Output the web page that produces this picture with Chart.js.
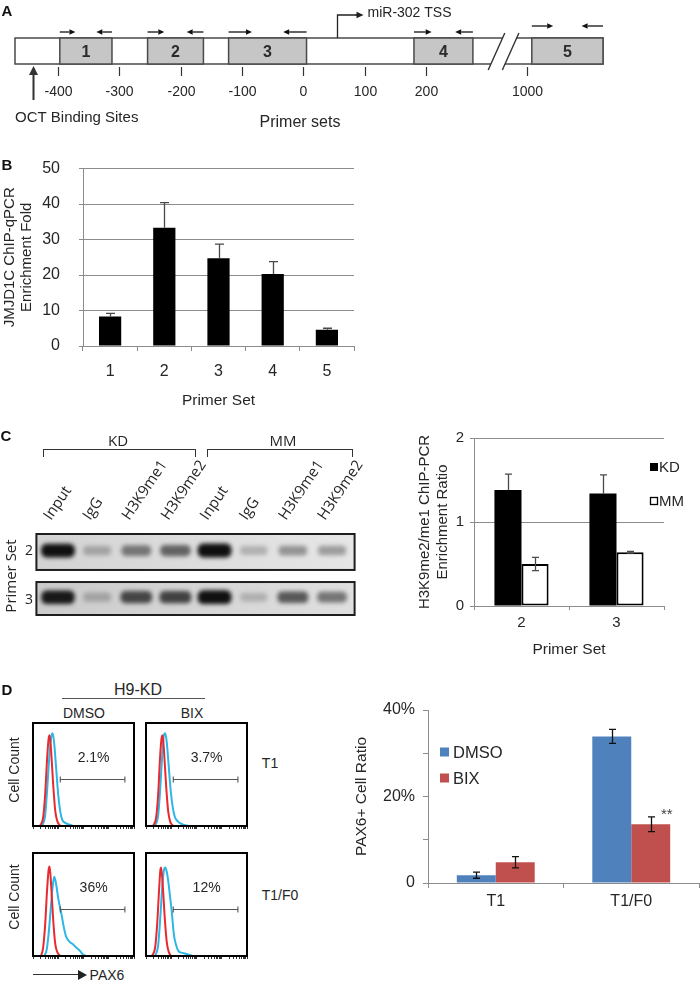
<!DOCTYPE html>
<html>
<head>
<meta charset="utf-8">
<script src="https://cdn.jsdelivr.net/npm/chart.js@4.4.1/dist/chart.umd.min.js"></script>
<style>
  body { margin: 0; background: #fff; }
  #page { position: relative; width: 700px; height: 984px; overflow: hidden;
          font-family: 'Liberation Sans', Arial, sans-serif; color: #262626; }
  canvas { position: absolute; }
  .t { position: absolute; white-space: nowrap; line-height: 1; transform: translate(-50%, -50%); }
  .rot { transform: translate(-50%, -50%) rotate(-90deg); }
  .letter { font-family: 'Liberation Sans Narrow', 'Liberation Sans', sans-serif; font-weight: bold; font-size: 15px; color: #111; }
  .gelfont { font-family: 'Open Sans', 'Liberation Sans', sans-serif; }
</style>
</head>
<body>
<div id="page">
  <canvas id="panelA" width="700" height="135" style="left:0;top:0"></canvas>
  <canvas id="chartB" width="370" height="280" style="left:0;top:140px"></canvas>
  <canvas id="gel" width="370" height="200" style="left:0;top:420px"></canvas>
  <canvas id="chartC" width="320" height="260" style="left:380px;top:410px"></canvas>
  <canvas id="flow0" width="105" height="113" style="left:31px;top:721px"></canvas>
  <canvas id="flow1" width="105" height="113" style="left:144px;top:721px"></canvas>
  <canvas id="flow2" width="105" height="113" style="left:31px;top:851px"></canvas>
  <canvas id="flow3" width="105" height="113" style="left:144px;top:851px"></canvas>
  <canvas id="chartD" width="360" height="260" style="left:340px;top:690px"></canvas>

  <div class="t letter" style="left:7px;top:10px">A</div>
  <div class="t letter" style="left:7px;top:164px">B</div>
  <div class="t letter" style="left:6px;top:435px">C</div>
  <div class="t letter" style="left:7px;top:689px">D</div>

  <!-- C: gel labels -->
  <div class="t gelfont" style="left:118px;top:440px;font-size:15px">KD</div>
  <div class="t gelfont" style="left:283px;top:440px;font-size:15px">MM</div>
  <div style="position:absolute;left:43px;top:449px;width:151px;height:7px;border:1.5px solid #333;border-bottom:none"></div>
  <div style="position:absolute;left:207px;top:449px;width:144px;height:7px;border:1.5px solid #333;border-bottom:none"></div>
  <div class="t gelfont rot" style="left:10px;top:576px;font-size:15px">Primer Set</div>
  <div class="t gelfont" style="left:29px;top:550px;font-size:14px">2</div>
  <div class="t gelfont" style="left:29px;top:599px;font-size:14px">3</div>

  <!-- D: flow labels -->
  <div class="t" style="left:138px;top:690px;font-size:16px">H9-KD</div>
  <div style="position:absolute;left:62px;top:698px;width:143px;border-top:1.5px solid #555"></div>
  <div class="t" style="left:84px;top:713px;font-size:14px">DMSO</div>
  <div class="t" style="left:192px;top:713px;font-size:14px">BIX</div>
  <div class="t" style="left:270px;top:763px;font-size:14px">T1</div>
  <div class="t" style="left:280px;top:895px;font-size:14px">T1/F0</div>
  <div class="t rot" style="left:14px;top:770px;font-size:14px">Cell Count</div>
  <div class="t rot" style="left:14px;top:897px;font-size:14px">Cell Count</div>
  <div style="position:absolute;left:33px;top:974px;width:46px;border-top:1.5px solid #333"></div>
  <div style="position:absolute;left:78px;top:970px;width:0;height:0;border-top:5px solid transparent;border-bottom:5px solid transparent;border-left:9px solid #222"></div>
  <div class="t" style="left:107px;top:975px;font-size:14px">PAX6</div>
</div>

<script>
// ---- Panel A: promoter map ----
const primerNames = ['1', '2', '3', '4', '5'];
const primerStart = [-397, -254, -122, 180, 1008];
const primerEnd = [-312, -163, 5, 276, 1124];
const positionTicks = [-400, -300, -200, -100, 0, 100, 200, 1000];
const tssPosition = 55;
const octPosition = -441;

// ---- Panel B ----
const primerSets = ['1', '2', '3', '4', '5'];
const jmjd1cFold = [8.3, 33.3, 24.7, 20.3, 4.6];
const jmjd1cErr = [0.9, 7.1, 4.0, 3.5, 0.4];

// ---- Panel C ----
const laneLabels = ['Input', 'IgG', 'H3K9me1', 'H3K9me2', 'Input', 'IgG', 'H3K9me1', 'H3K9me2'];
const bandSet2 = [0.97, 0.22, 0.45, 0.55, 0.98, 0.15, 0.3, 0.25];
const bandSet3 = [0.93, 0.22, 0.7, 0.72, 0.97, 0.15, 0.6, 0.45];
const chipPrimers = ['2', '3'];
const kdRatio = [1.38, 1.34];
const kdErr = [0.19, 0.22];
const mmRatio = [0.50, 0.64];
const mmErr = [0.08, 0.01];

// ---- Panel D ----
const flowPercent = ['2.1%', '3.7%', '36%', '12%'];
const redT1Dmso = [[7,0],[10,0.08],[12,0.3],[14,0.66],[15.5,0.85],[16.5,0.88],[18,0.72],[20,0.4],[22,0.15],[24,0.05],[27,0]];
const blueT1Dmso = [[9,0],[12,0.1],[14,0.35],[16,0.65],[18,0.86],[19.5,0.9],[21,0.8],[23,0.55],[25,0.3],[27,0.14],[29,0.06],[32,0.03],[37,0.01],[40,0]];
const redT1Bix = [[7,0],[10,0.08],[12,0.3],[14,0.68],[15.5,0.86],[16.5,0.88],[18,0.7],[20,0.38],[22,0.14],[24,0.04],[27,0]];
const blueT1Bix = [[9,0],[12,0.1],[14,0.35],[16,0.68],[17.5,0.87],[19,0.9],[20.5,0.82],[22.5,0.58],[24.5,0.34],[26.5,0.18],[28.5,0.09],[31,0.05],[35,0.02],[42,0]];
const redF0Dmso = [[8,0],[10,0.08],[12,0.3],[14,0.65],[15.5,0.84],[16.5,0.87],[18,0.68],[20,0.35],[22,0.12],[24,0.04],[27,0]];
const blueF0Dmso = [[11,0],[13.5,0.06],[15.5,0.22],[17.5,0.45],[19.5,0.68],[21,0.77],[22.5,0.72],[25,0.56],[28.5,0.39],[30.5,0.28],[32.7,0.19],[36,0.14],[40,0.11],[43,0.08],[46.5,0.05],[49,0.02],[52,0]];
const redF0Bix = [[6,0],[9,0.08],[11,0.3],[13,0.65],[14.3,0.84],[15,0.86],[16.5,0.7],[18.5,0.38],[20.5,0.14],[22.5,0.04],[25,0]];
const blueF0Bix = [[9,0],[12,0.1],[14,0.35],[16,0.66],[17.5,0.82],[19,0.86],[20.5,0.82],[22,0.73],[24,0.56],[25.4,0.44],[27.7,0.2],[30,0.1],[32,0.05],[36,0.03],[40,0.02],[46,0]];
const conditions = ['T1', 'T1/F0'];
const dmsoPct = [1.8, 33.9];
const dmsoErr = [0.7, 1.6];
const bixPct = [4.8, 13.6];
const bixErr = [1.3, 1.7];

const FONT = "'Liberation Sans', Arial, sans-serif";
const NARROW = "'Liberation Sans Narrow', 'Liberation Sans', sans-serif";
const TXT = '#262626';
const AXIS = '#8c8c8c';
Chart.defaults.font.family = FONT;
Chart.defaults.color = TXT;
Chart.defaults.animation = false;

function toAxis(v) { return v > 600 ? v - 636 : v; } // axis break between 276 and 1000

function arrow(ctx, x0, y0, x1, y1, head) {
  const dir = Math.sign(x1 - x0) || 1;
  const vert = x0 === x1;
  ctx.beginPath();
  ctx.moveTo(x0, y0);
  ctx.lineTo(vert ? x1 : x1 - dir * head, vert ? y1 + head : y1);
  ctx.stroke();
  ctx.beginPath();
  if (vert) {
    ctx.moveTo(x1, y1); ctx.lineTo(x1 - head / 2, y1 + head); ctx.lineTo(x1 + head / 2, y1 + head);
  } else {
    ctx.moveTo(x1, y1); ctx.lineTo(x1 - dir * head, y1 - head / 2.2); ctx.lineTo(x1 - dir * head, y1 + head / 2.2);
  }
  ctx.closePath();
  ctx.fill();
}

const schematic = {
  id: 'schematic',
  afterDraw(chart) {
    const { ctx, chartArea: a } = chart;
    const sx = chart.scales.x;
    const x = v => sx.getPixelForValue(toAxis(v));
    ctx.save();
    ctx.lineWidth = 1.5;
    ctx.strokeStyle = '#4a4a4a';
    ctx.fillStyle = '#fff';
    ctx.fillRect(a.left, a.top, a.width, a.height);
    ctx.strokeRect(a.left, a.top, a.width, a.height);

    primerStart.forEach((s, i) => {
      const x0 = x(s), x1 = x(primerEnd[i]);
      ctx.fillStyle = '#c6c6c6';
      ctx.lineWidth = 1.5;
      ctx.strokeStyle = '#4a4a4a';
      ctx.fillRect(x0, a.top, x1 - x0, a.height);
      ctx.strokeRect(x0, a.top, x1 - x0, a.height);
      ctx.fillStyle = '#2b2b2b';
      ctx.font = 'bold 16px ' + NARROW;
      ctx.textAlign = 'center';
      ctx.textBaseline = 'middle';
      ctx.fillText(primerNames[i], (x0 + x1) / 2, (a.top + a.bottom) / 2 + 2);
      // primer arrows
      const ay = a.top - (i === 4 ? 12 : 6);
      const len = (x1 - x0) * 0.3;
      ctx.strokeStyle = '#111';
      ctx.fillStyle = '#111';
      ctx.lineWidth = 1.3;
      arrow(ctx, x0, ay, x0 + len, ay, 6);
      arrow(ctx, x1, ay, x1 - len, ay, 6);
    });

    // axis break
    const b1 = sx.getPixelForValue(301), b2 = sx.getPixelForValue(324);
    const t1 = sx.getPixelForValue(328), t2 = sx.getPixelForValue(351);
    ctx.fillStyle = '#fff';
    ctx.beginPath();
    ctx.moveTo(b1, a.bottom + 6); ctx.lineTo(t1, a.top - 5); ctx.lineTo(t2, a.top - 5); ctx.lineTo(b2, a.bottom + 6);
    ctx.closePath(); ctx.fill();
    ctx.strokeStyle = '#333'; ctx.lineWidth = 1.4;
    ctx.beginPath();
    ctx.moveTo(b1, a.bottom + 6); ctx.lineTo(t1, a.top - 5);
    ctx.moveTo(b2, a.bottom + 6); ctx.lineTo(t2, a.top - 5);
    ctx.stroke();

    // position ticks
    ctx.strokeStyle = '#333'; ctx.lineWidth = 1.2;
    ctx.fillStyle = TXT; ctx.font = '14px ' + FONT;
    ctx.textAlign = 'center'; ctx.textBaseline = 'middle';
    positionTicks.forEach(t => {
      const px = Math.round(x(t)) + 0.5;
      ctx.beginPath(); ctx.moveTo(px, a.bottom + 3); ctx.lineTo(px, a.bottom + 12); ctx.stroke();
      ctx.fillText(String(t), px, a.bottom + 28);
    });

    // TSS bent arrow
    const xt = Math.round(x(tssPosition)) + 0.5;
    ctx.strokeStyle = '#222'; ctx.fillStyle = '#222'; ctx.lineWidth = 1.3;
    ctx.beginPath(); ctx.moveTo(xt, a.top); ctx.lineTo(xt, a.top - 23); ctx.lineTo(xt + 20, a.top - 23); ctx.stroke();
    arrow(ctx, xt + 18, a.top - 23, xt + 26, a.top - 23, 7);
    ctx.fillStyle = TXT; ctx.font = '14px ' + FONT; ctx.textAlign = 'left';
    ctx.fillText('miR-302 TSS', xt + 30, a.top - 25);

    // OCT binding site arrow
    const xo = Math.round(x(octPosition)) + 0.5;
    ctx.strokeStyle = '#333'; ctx.fillStyle = '#333'; ctx.lineWidth = 1.6;
    ctx.beginPath(); ctx.moveTo(xo, a.bottom + 36); ctx.lineTo(xo, a.bottom + 8); ctx.stroke();
    arrow(ctx, xo, a.bottom + 36, xo, a.bottom + 2, 9);
    ctx.fillStyle = TXT; ctx.font = '15px ' + NARROW; ctx.textAlign = 'left';
    ctx.fillText('OCT Binding Sites', a.left, a.bottom + 54);
    ctx.font = '16px ' + FONT; ctx.textAlign = 'center';
    ctx.fillText('Primer sets', 300, a.bottom + 59);
    ctx.restore();
  }
};

new Chart(document.getElementById('panelA'), {
  type: 'scatter',
  data: { datasets: [] },
  options: {
    responsive: false,
    layout: { padding: { left: 15, right: 97, top: 38, bottom: 71 } },
    plugins: { legend: { display: false }, tooltip: { enabled: false } },
    scales: {
      x: { type: 'linear', min: -470, max: 488, display: false },
      y: { min: 0, max: 1, display: false }
    }
  },
  plugins: [schematic]
});

// error bars drawn from the bar scales
function errorBars(errs, lower, color, cap) {
  return {
    id: 'errorBars',
    afterDatasetsDraw(chart) {
      const { ctx } = chart;
      const y = chart.scales.y;
      ctx.save();
      ctx.strokeStyle = color;
      ctx.lineWidth = 1.3;
      errs.forEach((err, i) => {
        const ds = chart.data.datasets[i];
        chart.getDatasetMeta(i).data.forEach((bar, j) => {
          const v = ds.data[j], e = err[j];
          const top = y.getPixelForValue(v + e);
          const bot = lower[i] ? y.getPixelForValue(v - e) : y.getPixelForValue(v);
          const bx = Math.round(bar.x) + 0.5;
          ctx.beginPath();
          ctx.moveTo(bx, top); ctx.lineTo(bx, bot);
          ctx.moveTo(bx - cap / 2, top); ctx.lineTo(bx + cap / 2, top);
          if (lower[i]) { ctx.moveTo(bx - cap / 2, bot); ctx.lineTo(bx + cap / 2, bot); }
          ctx.stroke();
        });
      });
      ctx.restore();
    }
  };
}

function boxLegend(anchor, dx, sq, textDx, rowsDy, font) {
  return {
    id: 'boxLegend',
    afterDraw(chart) {
      const { ctx, chartArea: a } = chart;
      ctx.save();
      ctx.font = font;
      ctx.textBaseline = 'middle';
      ctx.textAlign = 'left';
      const x0 = (anchor === 'right' ? a.right : a.left) + dx;
      chart.data.datasets.forEach((ds, i) => {
        const cy = a.top + rowsDy[i];
        ctx.fillStyle = ds.backgroundColor;
        ctx.fillRect(x0, cy - sq / 2, sq, sq);
        if (ds.borderWidth) {
          ctx.strokeStyle = ds.borderColor; ctx.lineWidth = 1.3;
          ctx.strokeRect(x0 + 0.5, cy - sq / 2 + 0.5, sq - 1, sq - 1);
        }
        ctx.fillStyle = TXT;
        ctx.fillText(ds.label, x0 + textDx, cy + 1);
      });
      ctx.restore();
    }
  };
}

// ---- B ----
new Chart(document.getElementById('chartB'), {
  type: 'bar',
  data: {
    labels: primerSets,
    datasets: [{ label: 'JMJD1C', data: jmjd1cFold, backgroundColor: '#000', categoryPercentage: 1, barPercentage: 0.41 }]
  },
  options: {
    responsive: false,
    layout: { padding: { top: 24, right: 16, left: 0, bottom: 0 } },
    plugins: { legend: { display: false }, tooltip: { enabled: false } },
    scales: {
      x: {
        afterFit: s => { s.height = 74; },
        grid: { drawOnChartArea: false, tickLength: 5, color: AXIS },
        border: { color: AXIS },
        ticks: { font: { size: 16 }, padding: 11 },
        title: { display: true, text: 'Primer Set', font: { size: 15.5 }, padding: { top: 0, bottom: 10.4 } }
      },
      y: {
        min: 0, max: 50,
        afterFit: s => { s.width = 83; },
        ticks: { stepSize: 10, font: { size: 16 }, padding: 19 },
        grid: { color: AXIS, tickLength: 4 },
        border: { color: AXIS },
        title: { display: true, text: ['JMJD1C ChIP-qPCR', 'Enrichment Fold'], font: { size: 15, lineHeight: 1.15 }, padding: { top: 1.4, bottom: 0 } }
      }
    }
  },
  plugins: [errorBars([jmjd1cErr], [false], '#4a4a4a', 9)]
});

// ---- C gel ----
const gelPlugin = {
  id: 'gel',
  afterDraw(chart) {
    const { ctx, chartArea: a, scales } = chart;
    const rows = [bandSet2, bandSet3];
    const spans = [[0, 0.444], [0.593, 1]];
    ctx.save();
    rows.forEach((bands, r) => {
      const top = a.top + spans[r][0] * a.height, bot = a.top + spans[r][1] * a.height;
      const left = a.left - 2, right = a.right + 3;
      const g = ctx.createLinearGradient(left, 0, right, 0);
      g.addColorStop(0, r ? '#cbcbcb' : '#d3d3d3');
      g.addColorStop(1, r ? '#dfdfdf' : '#e6e6e6');
      ctx.fillStyle = g;
      ctx.fillRect(left, top, right - left, bot - top);
      ctx.save();
      ctx.beginPath(); ctx.rect(left, top, right - left, bot - top); ctx.clip();
      ctx.filter = 'blur(2px)';
      bands.forEach((b, j) => {
        const cx = scales.x.getPixelForValue(j);
        const cy = top + (bot - top) * 0.46;
        const shade = Math.round(205 - b * 195);
        ctx.fillStyle = `rgb(${shade},${shade},${shade})`;
        const w = 26 + b * 8, h = 8 + b * 6;
        ctx.beginPath(); ctx.roundRect(cx - w / 2, cy - h / 2, w, h, h / 2.5); ctx.fill();
      });
      ctx.restore();
      ctx.lineWidth = 2; ctx.strokeStyle = '#1e1e1e';
      ctx.strokeRect(left, top, right - left, bot - top);
    });
    ctx.font = "15px 'Open Sans', 'Liberation Sans', sans-serif";
    ctx.fillStyle = TXT; ctx.textAlign = 'left'; ctx.textBaseline = 'alphabetic';
    laneLabels.forEach((lab, j) => {
      const cx = scales.x.getPixelForValue(j);
      ctx.save();
      ctx.translate(cx - 7, a.top - 13);
      ctx.rotate(-56 * Math.PI / 180);
      ctx.fillText(lab, 0, 0);
      ctx.restore();
    });
    ctx.restore();
  }
};

new Chart(document.getElementById('gel'), {
  type: 'bar',
  data: { labels: laneLabels, datasets: [] },
  options: {
    responsive: false,
    layout: { padding: { left: 38.4, right: 18.4, top: 114, bottom: 5 } },
    plugins: { legend: { display: false }, tooltip: { enabled: false } },
    scales: { x: { display: false }, y: { min: 0, max: 1, display: false } }
  },
  plugins: [gelPlugin]
});

// ---- C bars ----
new Chart(document.getElementById('chartC'), {
  type: 'bar',
  data: {
    labels: chipPrimers,
    datasets: [
      { label: 'KD', data: kdRatio, backgroundColor: '#000', borderWidth: 0, categoryPercentage: 0.57, barPercentage: 1 },
      { label: 'MM', data: mmRatio, backgroundColor: '#fff', borderColor: '#000', borderWidth: 2, borderSkipped: false, categoryPercentage: 0.57, barPercentage: 1 }
    ]
  },
  options: {
    responsive: false,
    layout: { padding: { top: 28, right: 36, left: 0, bottom: 0 } },
    plugins: { legend: { display: false }, tooltip: { enabled: false } },
    scales: {
      x: {
        afterFit: s => { s.height = 64; },
        grid: { drawOnChartArea: false, tickLength: 4, color: AXIS },
        border: { color: AXIS },
        ticks: { font: { size: 15 }, padding: 4 },
        title: { display: true, text: 'Primer Set', font: { size: 15.5 }, padding: { top: 0, bottom: 10.7 } }
      },
      y: {
        min: 0, max: 2,
        afterFit: s => { s.width = 94; },
        ticks: { stepSize: 1, font: { size: 15 }, padding: 6 },
        grid: { color: AXIS, tickLength: 4 },
        border: { color: AXIS },
        title: { display: true, text: ['H3K9me2/me1 ChIP-PCR', 'Enrichment Ratio'], font: { size: 15, lineHeight: 1.2 }, padding: { top: 36, bottom: 0 } }
      }
    }
  },
  plugins: [
    errorBars([kdErr, mmErr], [false, true], '#4a4a4a', 7),
    boxLegend('right', -14, 8, 9, [29, 63], '15px ' + FONT)
  ]
});

// ---- D flow histograms ----
const logTicks = [];
for (let d = 0; d < 4; d++) for (let k = 1; k < 10; k++) logTicks.push(25 * (d + Math.log10(k)));
logTicks.push(100);

const flowFrame = {
  id: 'flowFrame',
  afterDraw(chart) {
    const { ctx, chartArea: a, scales } = chart;
    const pct = chart.options.plugins.flowFrame.pct;
    ctx.save();
    ctx.strokeStyle = '#000'; ctx.lineWidth = 2;
    ctx.strokeRect(a.left, a.top, a.width, a.height);
    // gate
    const gx0 = scales.x.getPixelForValue(27), gx1 = scales.x.getPixelForValue(91);
    const gy = Math.round(scales.y.getPixelForValue(0.46)) + 0.5;
    ctx.strokeStyle = '#555'; ctx.lineWidth = 1.1;
    ctx.beginPath();
    ctx.moveTo(gx0, gy); ctx.lineTo(gx1, gy);
    ctx.moveTo(gx0, gy - 3); ctx.lineTo(gx0, gy + 3);
    ctx.moveTo(gx1, gy - 3); ctx.lineTo(gx1, gy + 3);
    ctx.stroke();
    ctx.fillStyle = TXT; ctx.font = '14px ' + FONT;
    ctx.textAlign = 'center'; ctx.textBaseline = 'middle';
    ctx.fillText(pct, scales.x.getPixelForValue(60), scales.y.getPixelForValue(0.66));
    ctx.restore();
  }
};

function makeFlow(id, red, blue, pct) {
  const pts = arr => arr.map(p => ({ x: p[0], y: p[1] }));
  return new Chart(document.getElementById(id), {
    type: 'line',
    data: {
      datasets: [
        { label: 'control', data: pts(red), borderColor: 'rgb(232,42,48)', borderWidth: 2, pointRadius: 0, cubicInterpolationMode: 'monotone' },
        { label: 'PAX6', data: pts(blue), borderColor: 'rgb(45,182,230)', borderWidth: 2, pointRadius: 0, cubicInterpolationMode: 'monotone' }
      ]
    },
    options: {
      responsive: false,
      layout: { padding: { left: 2, right: 2, top: 2, bottom: 0 } },
      plugins: { legend: { display: false }, tooltip: { enabled: false }, flowFrame: { pct } },
      scales: {
        x: {
          type: 'linear', min: 0, max: 100,
          afterFit: s => { s.height = 8; },
          afterBuildTicks: s => { s.ticks = logTicks.map(v => ({ value: v })); },
          ticks: { display: false },
          grid: { drawOnChartArea: false, tickLength: 3, color: '#333', lineWidth: 1 },
          border: { display: false }
        },
        y: { min: 0, max: 1, display: false }
      }
    },
    plugins: [flowFrame]
  });
}
makeFlow('flow0', redT1Dmso, blueT1Dmso, flowPercent[0]);
makeFlow('flow1', redT1Bix, blueT1Bix, flowPercent[1]);
makeFlow('flow2', redF0Dmso, blueF0Dmso, flowPercent[2]);
makeFlow('flow3', redF0Bix, blueF0Bix, flowPercent[3]);

// ---- D bars ----
const starPlugin = {
  id: 'stars',
  afterDatasetsDraw(chart) {
    const { ctx } = chart;
    const bar = chart.getDatasetMeta(1).data[1];
    const y = chart.scales.y.getPixelForValue(bixPct[1] + bixErr[1]);
    ctx.save();
    ctx.fillStyle = '#444'; ctx.font = '15px ' + FONT;
    ctx.textAlign = 'center'; ctx.textBaseline = 'middle';
    ctx.fillText('**', bar.x + 16, y - 2);
    ctx.restore();
  }
};

new Chart(document.getElementById('chartD'), {
  type: 'bar',
  data: {
    labels: conditions,
    datasets: [
      { label: 'DMSO', data: dmsoPct, backgroundColor: '#4F81BD', categoryPercentage: 0.575, barPercentage: 1 },
      { label: 'BIX', data: bixPct, backgroundColor: '#C0504D', categoryPercentage: 0.575, barPercentage: 1 }
    ]
  },
  options: {
    responsive: false,
    layout: { padding: { top: 20, right: 1, left: 0, bottom: 0 } },
    plugins: { legend: { display: false }, tooltip: { enabled: false } },
    scales: {
      x: {
        afterFit: s => { s.height = 67; },
        grid: { drawOnChartArea: false, tickLength: 5, color: AXIS },
        border: { color: AXIS },
        ticks: { font: { size: 16 }, padding: 4.4 }
      },
      y: {
        min: 0, max: 40,
        afterFit: s => { s.width = 88; },
        ticks: { stepSize: 10, font: { size: 16 }, padding: 8,
                 callback: v => v === 0 ? '0' : (v % 20 === 0 ? v + '%' : '') },
        grid: { drawOnChartArea: false, tickLength: 5, color: AXIS },
        border: { color: AXIS },
        title: { display: true, text: 'PAX6+ Cell Ratio', font: { size: 15.5 }, padding: { top: 12.7, bottom: 0 } }
      }
    }
  },
  plugins: [
    errorBars([dmsoErr, bixErr], [true, true], '#111', 7),
    boxLegend('left', 12, 9, 13, [42, 68], '16.5px ' + FONT),
    starPlugin
  ]
});
</script>
</body>
</html>
